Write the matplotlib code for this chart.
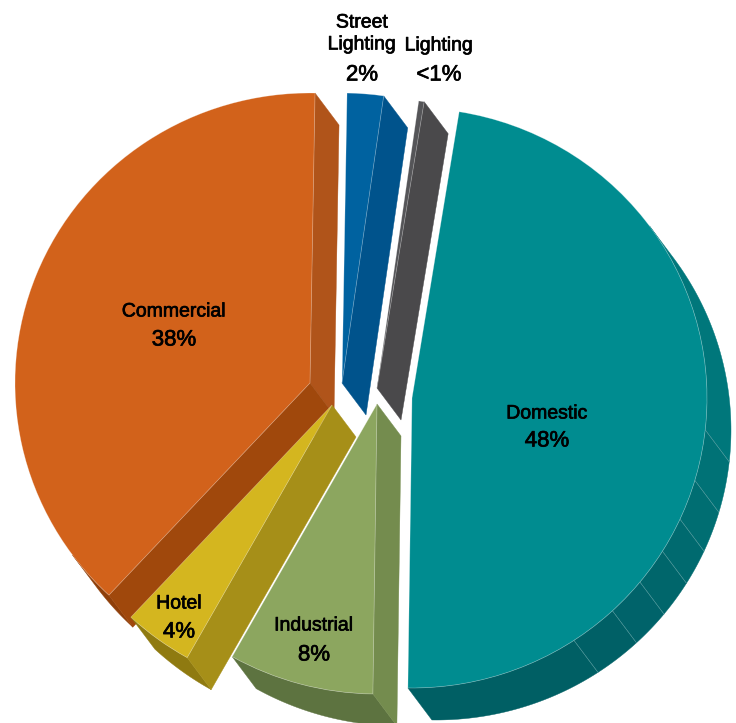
import numpy as np
import matplotlib
matplotlib.use('Agg')
import matplotlib.pyplot as plt
import matplotlib.patheffects as pe
from matplotlib.patches import Polygon

W, H = 736, 723

# shares, the labels carry the rounded figures
categories = ['Domestic', 'Industrial', 'Hotel', 'Commercial', 'Street\nLighting', 'Lighting']
shares = [48, 8, 3.8, 38.6, 2, 0.3]
share_labels = ['48%', '8%', '4%', '38%', '2%', '<1%']

top_colors = ['#008C90', '#8CA65F', '#D4B61F', '#D2621B', '#0062A0', '#555558']
wall_colors = ['#00666B', '#748C4E', '#A68F18', '#A0480C', '#00538C', '#4A494B']
end_colors = ['#00666B', '#748C4E', '#A68F18', '#B0541A', '#00538C', '#4A494B']
rim_colors = ['#005F64', '#5D7340', '#8F7A10', '#8F3F0A', '#00538C', '#4A494B']

# where each slice's point sits, in image pixels (slices are pulled apart by hand)
apex_px = [(412, 398), (377, 404), (332, 405), (310, 383), (342, 383), (377, 388)]
label_px = [(547, 414), (314, 626), (179, 604), (174, 312), (362, 34), (439, 46)]
pct_px = [(547, 441), (314, 655), (179, 632), (174, 340), (362, 75), (439, 75)]

radius = 295
squash = 290 / 295  # pie is a little flatter than a circle
depth = np.array([24, -32 / squash])
draw_order = [5, 4, 3, 2, 1, 0]

# facets on the domestic rim, degrees on the pie's own circle, with their shades
facet_angles = [-6.3, -16.5, -24.7, -31.9, -39.4, -47.2, -56.7]
facet_colors = ['#00777B', '#007276', '#006E72', '#006A6F', '#00666B', '#00636A', '#006066', '#005F64']

plt.rcParams['font.family'] = ['Liberation Sans Narrow', 'Liberation Sans', 'DejaVu Sans']

fig = plt.figure(figsize=(W / 100, H / 100), dpi=100)
ax = fig.add_axes([0, 0, 1, 1])

wedges, _ = ax.pie(shares, startangle=80.8, counterclock=False, radius=radius,
                   wedgeprops={'linewidth': 0})


def to_data(p):
    return np.array([p[0], (H - p[1]) / squash], dtype=float)


def arc(c, t1, t2, n=80):
    t = np.radians(np.linspace(t1, t2, n))
    return np.column_stack([c[0] + radius * np.cos(t), c[1] + radius * np.sin(t)])


def rim(c, t1, t2, color, z):
    pts = arc(c, t1, t2)
    ax.add_patch(Polygon(np.vstack([pts, (pts + depth)[::-1]]), closed=True, fc=color,
                         ec=color, lw=0.3, zorder=z))


vis_mid = np.degrees(np.arctan2(depth[1], depth[0]))

for z, i in enumerate(draw_order):
    w = wedges[i]
    c = to_data(apex_px[i])
    w.set_center(c)
    t1, t2 = w.theta1, w.theta2
    base = z * 10 + 1

    # outer rim, only the part turned towards the viewer
    lo = max(t1, vis_mid - 90)
    hi = min(t2, vis_mid + 90)
    if hi > lo:
        if i == 0:
            edges = [hi] + facet_angles + [lo]
            for k in range(len(edges) - 1):
                rim(c, edges[k + 1], edges[k], facet_colors[k], base)
            for a in facet_angles:
                p = arc(c, a, a, 1)[0]
                ax.plot([p[0], p[0] + depth[0]], [p[1], p[1] + depth[1]], color='#5FA3A6',
                        lw=0.4, zorder=base + 1)
        else:
            rim(c, lo, hi, rim_colors[i], base)

    # flat walls at the cut sides
    for t, sign, col in [(t1, -1, end_colors[i]), (t2, 1, wall_colors[i])]:
        n = np.array([np.cos(np.radians(t + sign * 90)), np.sin(np.radians(t + sign * 90))])
        if n @ depth > 0:
            p = arc(c, t, t, 1)[0]
            ax.add_patch(Polygon([c, p, p + depth, c + depth], closed=True, fc=col, ec=col,
                                 lw=0.3, zorder=base + 2))

    w.set_facecolor(top_colors[i])
    w.set_edgecolor(matplotlib.colors.to_rgba('white', 0.35))
    w.set_linewidth(0.5)
    w.set_zorder(base + 3)

heavier = [pe.withStroke(linewidth=0.5, foreground='black')]
for i in range(len(categories)):
    ax.text(*to_data(label_px[i]), categories[i], ha='center', va='center', fontsize=14,
            color='black', linespacing=1.38, zorder=200, path_effects=heavier)
    ax.text(*to_data(pct_px[i]), share_labels[i], ha='center', va='center', fontsize=16,
            color='black', zorder=200, path_effects=heavier)

ax.set_xlim(0, W)
ax.set_ylim(0, H / squash)
ax.set_aspect('auto')
ax.axis('off')
fig.savefig('out.png', dpi=100, facecolor='white')
